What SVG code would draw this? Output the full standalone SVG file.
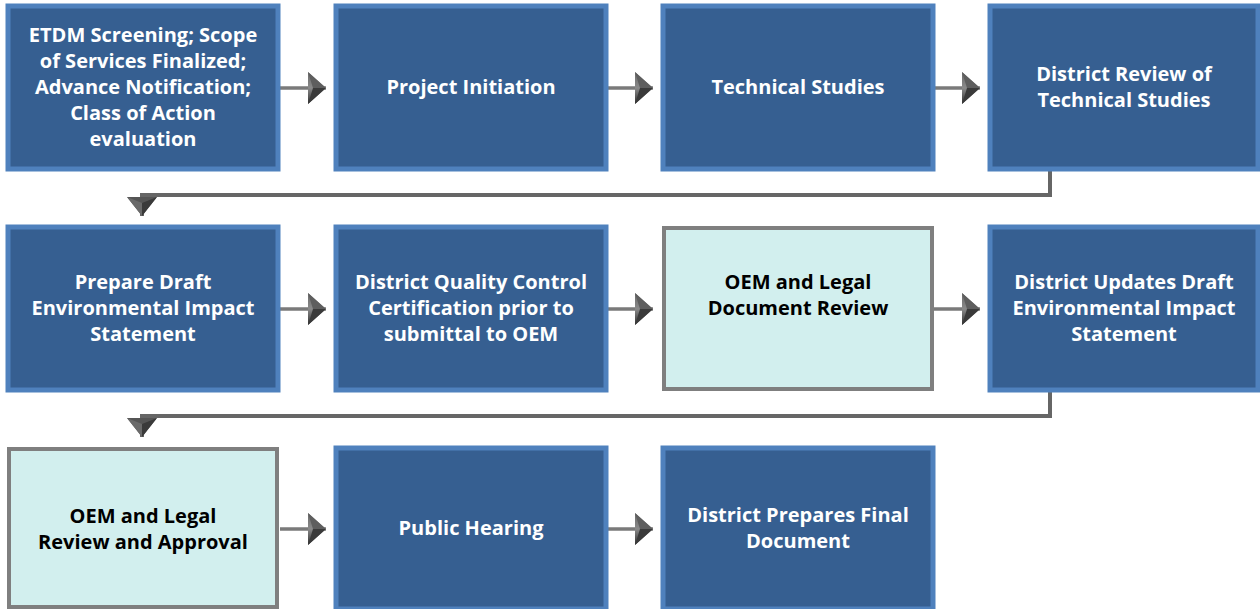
<svg xmlns="http://www.w3.org/2000/svg" width="1260" height="609" viewBox="0 0 1260 609">
<defs>
<linearGradient id="hg" x1="0" y1="0" x2="0" y2="1">
<stop offset="0" stop-color="#6a6a6a"/>
<stop offset="0.5" stop-color="#8a8a8a"/>
<stop offset="1" stop-color="#2e2e2e"/>
</linearGradient>
<marker id="ah" viewBox="0 0 20 32" refX="18" refY="16" markerWidth="20" markerHeight="32" markerUnits="userSpaceOnUse" orient="auto">
<path d="M0,0 L18,16 L0,32 Z" fill="url(#hg)"/>
<path d="M0,0 L18,16 L5,16 Z" fill="#5e5e5e"/>
<path d="M0,32 L18,16 L5,16 Z" fill="#3a3a3a"/>
</marker>
<marker id="av" viewBox="0 0 30 20" refX="15" refY="19" markerWidth="30" markerHeight="20" markerUnits="userSpaceOnUse" orient="0">
<path d="M0,0 L30,0 L15,19 Z" fill="#555"/>
<path d="M0,0 L15,19 L15,6 Z" fill="#6a6a6a"/>
<path d="M30,0 L15,19 L15,6 Z" fill="#3a3a3a"/>
</marker>
</defs>
<style>
.b{fill:#365F91;stroke:#4F81BD;stroke-width:5}
.l{fill:#D2EFEE;stroke:#7F7F7F;stroke-width:4}
.t{font-family:"Open Sans","Liberation Sans",sans-serif;font-weight:bold;font-size:20px;text-anchor:middle}
.w{fill:#FFFFFF}
.k{fill:#000000}
.c{fill:none;stroke:#7a7a7a;stroke-width:3.5}
.e{fill:none;stroke:#666;stroke-width:4;stroke-linejoin:miter}
</style>
<g id="connectors">
<line class="c" x1="280" y1="88" x2="326" y2="88" marker-end="url(#ah)"/>
<line class="c" x1="607" y1="88" x2="653" y2="88" marker-end="url(#ah)"/>
<line class="c" x1="934" y1="88" x2="980" y2="88" marker-end="url(#ah)"/>
<line class="c" x1="280" y1="309" x2="326" y2="309" marker-end="url(#ah)"/>
<line class="c" x1="607" y1="309" x2="653" y2="309" marker-end="url(#ah)"/>
<line class="c" x1="934" y1="309" x2="980" y2="309" marker-end="url(#ah)"/>
<line class="c" x1="280" y1="529" x2="326" y2="529" marker-end="url(#ah)"/>
<line class="c" x1="607" y1="529" x2="653" y2="529" marker-end="url(#ah)"/>
<path class="e" d="M1050,170 L1050,195 L142,195 L142,216" marker-end="url(#av)"/>
<path class="e" d="M1050,391 L1050,416 L142,416 L142,437" marker-end="url(#av)"/>
</g>
<g id="n1"><rect class="b" x="8" y="6" width="270" height="163"/>
<text class="t w"><tspan x="143" y="42">ETDM Screening; Scope</tspan><tspan x="143" y="68">of Services Finalized;</tspan><tspan x="143" y="94">Advance Notification;</tspan><tspan x="143" y="120">Class of Action</tspan><tspan x="143" y="146">evaluation</tspan></text></g>
<g id="n2"><rect class="b" x="336" y="6" width="270" height="163"/>
<text class="t w" x="471" y="94">Project Initiation</text></g>
<g id="n3"><rect class="b" x="663" y="6" width="270" height="163"/>
<text class="t w" x="798" y="94">Technical Studies</text></g>
<g id="n4"><rect class="b" x="990" y="6" width="268" height="163"/>
<text class="t w"><tspan x="1124" y="81">District Review of</tspan><tspan x="1124" y="107">Technical Studies</tspan></text></g>
<g id="n5"><rect class="b" x="8" y="227" width="270" height="163"/>
<text class="t w"><tspan x="143" y="289">Prepare Draft</tspan><tspan x="143" y="315">Environmental Impact</tspan><tspan x="143" y="341">Statement</tspan></text></g>
<g id="n6"><rect class="b" x="336" y="227" width="270" height="163"/>
<text class="t w"><tspan x="471" y="289">District Quality Control</tspan><tspan x="471" y="315">Certification prior to</tspan><tspan x="471" y="341">submittal to OEM</tspan></text></g>
<g id="n7"><rect class="l" x="664" y="228" width="268" height="161"/>
<text class="t k"><tspan x="798" y="289">OEM and Legal</tspan><tspan x="798" y="315">Document Review</tspan></text></g>
<g id="n8"><rect class="b" x="990" y="227" width="268" height="163"/>
<text class="t w"><tspan x="1124" y="289">District Updates Draft</tspan><tspan x="1124" y="315">Environmental Impact</tspan><tspan x="1124" y="341">Statement</tspan></text></g>
<g id="n9"><rect class="l" x="9" y="449" width="268" height="158"/>
<text class="t k"><tspan x="143" y="523">OEM and Legal</tspan><tspan x="143" y="549">Review and Approval</tspan></text></g>
<g id="n10"><rect class="b" x="336" y="448" width="270" height="161"/>
<text class="t w" x="471" y="535">Public Hearing</text></g>
<g id="n11"><rect class="b" x="663" y="448" width="270" height="161"/>
<text class="t w"><tspan x="798" y="522">District Prepares Final</tspan><tspan x="798" y="548">Document</tspan></text></g>
</svg>
